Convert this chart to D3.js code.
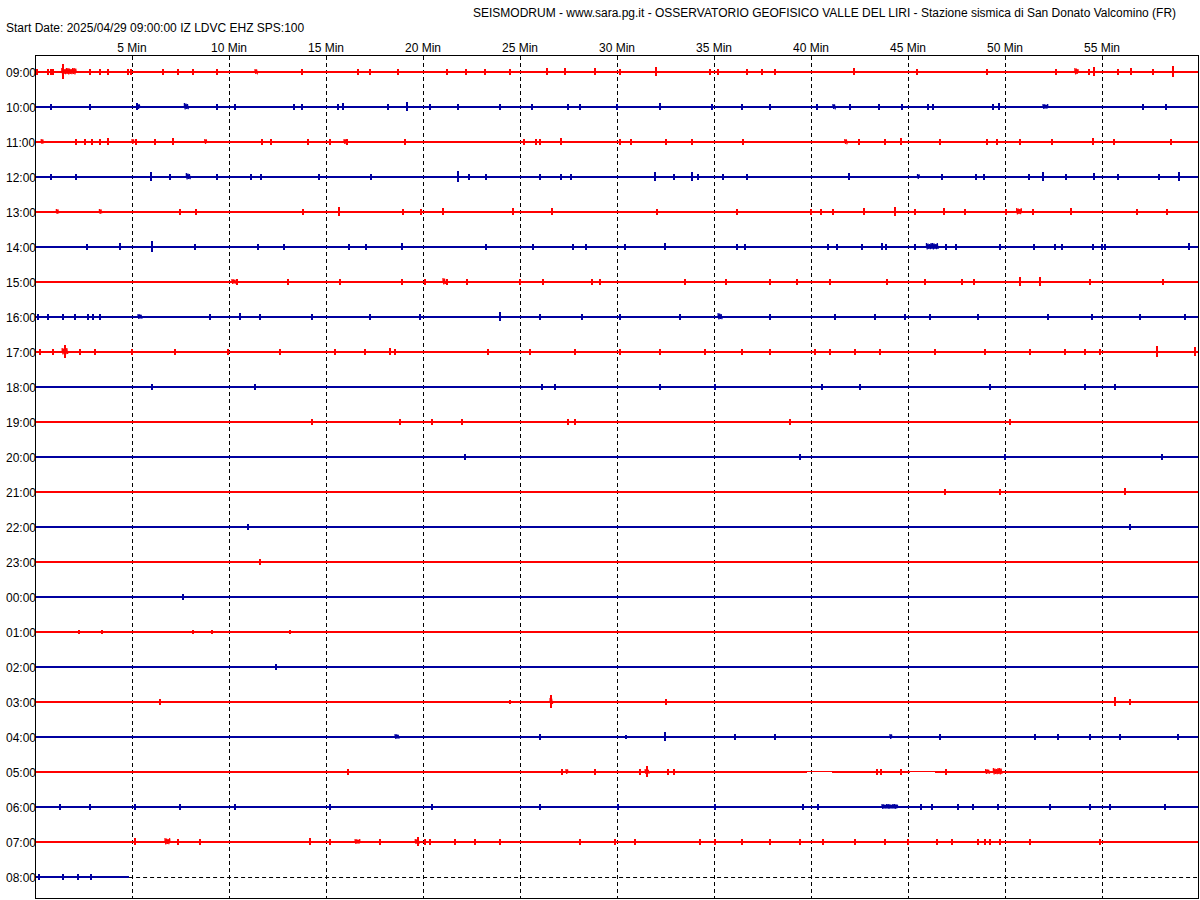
<!DOCTYPE html>
<html><head><meta charset="utf-8">
<script src="https://cdn.jsdelivr.net/npm/d3@7"></script>
<style>
body{margin:0;background:#fff}
text{font-family:Arial,"Liberation Sans",sans-serif;font-size:12px;fill:#000}
</style>
</head><body>
<svg id="chart" width="1200" height="900"></svg>
<script>
// ---------- DATA ----------
const titleText = "SEISMODRUM - www.sara.pg.it - OSSERVATORIO GEOFISICO VALLE DEL LIRI - Stazione sismica di San Donato Valcomino (FR)";
const startText = "Start Date: 2025/04/29 09:00:00 IZ LDVC EHZ SPS:100";
const rowLabels = ["09:00","10:00","11:00","12:00","13:00","14:00","15:00","16:00","17:00","18:00","19:00","20:00","21:00","22:00","23:00","00:00","01:00","02:00","03:00","04:00","05:00","06:00","07:00","08:00"];
const minuteTicks = [5,10,15,20,25,30,35,40,45,50,55];
const traceEnd = [60,60,60,60,60,60,60,60,60,60,60,60,60,60,60,60,60,60,60,60,60,60,60,4.85]; // minutes recorded per row
// events: [minute, amplitude] spike  or [minute, amplitude, duration(min)] burst
const ev0900 = [[0.12,3],[0.68,3],[0.81,3],[0.94,3],[1.38,4,0.75],[1.43,8],[2.84,3],[3.35,3],[3.75,3],[4.81,3],[4.93,3],[6.61,3],[7.39,3],[8.16,3],[9.36,3],[11.34,3,0.15],[13.75,3],[16.66,3],[17.27,3],[18.73,3],[21.24,3],[22.22,3],[23.2,3],[24.48,3],[26.39,4],[27.32,4],[28.87,4],[30.15,3],[32.01,5],[34.79,3],[35.21,3],[36.7,3],[37.47,3],[38.14,3],[42.22,4],[45.46,3],[49.07,3],[52.63,3],[53.6,4,0.18],[54.33,3],[54.59,5],[55.83,3],[56.49,4],[57.63,3],[58.66,6]];
const ev1000 = [[0.82,3],[2.84,3],[5.24,4],[5.3,3,0.1],[7.7,4,0.2],[9.36,3],[10.31,3],[13.37,3],[13.75,3],[15.64,3],[15.89,4],[18.21,3],[19.18,5],[20.36,3],[21.8,3],[23.97,3],[25.62,3],[27.47,3],[28.09,3],[30.0,3],[32.22,4],[34.9,3],[36.44,3],[37.89,3],[40.31,3],[41.13,3,0.15],[42.01,3],[43.51,3],[44.69,3],[46.03,3],[46.29,3],[49.38,3],[49.69,4],[51.96,3,0.25],[57.11,3],[58.3,3]];
const ev1100 = [[0.32,3,0.12],[2.09,3],[2.57,3],[2.96,3],[3.36,3],[3.77,4],[5.0,3,0.1],[5.2,3],[6.19,3],[7.13,4],[8.75,3,0.1],[11.72,3],[12.17,3],[14.09,3],[15.22,3],[15.93,3,0.15],[16.07,3],[19.09,3],[25.22,3],[25.81,3],[26.05,3],[27.13,4],[30.14,3],[30.73,3],[32.51,3],[33.89,3],[36.52,3],[41.74,3,0.15],[42.49,3],[43.83,3],[44.66,4],[46.64,3],[49.05,3],[49.57,3],[50.79,3],[52.41,3],[54.55,4],[55.63,3],[58.56,3]];
const ev1200 = [[0.85,3],[2.13,3],[5.99,5],[6.98,3],[7.8,4,0.2],[9.39,3],[11.13,3],[11.66,3],[14.64,3],[17.31,3],[21.8,6],[22.39,3],[23.24,3],[26.01,3],[27.13,3],[27.63,3],[31.98,5],[32.96,3],[33.89,5],[34.15,3],[35.47,3],[36.72,3],[41.96,4],[45.49,3,0.1],[46.74,3],[48.48,3],[48.91,3],[51.23,3],[51.94,5],[53.12,3],[54.58,4],[55.83,3],[57.94,3],[58.99,5]];
const ev1300 = [[1.1,3,0.12],[3.32,3,0.12],[7.47,3],[8.32,3],[13.79,3],[15.67,5],[18.97,3],[19.88,3],[21.01,4],[24.62,4],[26.64,4],[32.06,3],[36.21,3],[40.02,3],[40.51,3],[41.11,3],[42.73,4],[44.33,5],[45.36,3],[46.88,4],[47.96,3],[50.04,3],[50.6,4,0.25],[51.42,3],[53.42,4],[56.82,3],[58.36,3]];
const ev1400 = [[2.69,3],[4.37,4],[6.05,6],[8.26,3],[11.52,3],[12.81,3],[16.17,3],[17.06,3],[18.93,4],[23.24,3],[25.65,3],[27.73,3],[28.42,3],[30.4,3],[32.45,4],[36.21,3],[36.62,3],[40.87,3],[41.34,3],[42.65,3],[43.64,4],[43.87,3],[45.36,3],[45.95,4,0.6],[46.94,3],[47.47,3],[49.76,3],[51.48,3],[52.57,3],[52.96,3],[54.55,3],[54.98,3],[55.14,3],[59.49,4]];
const ev1500 = [[10.15,3,0.2],[10.41,3],[13.04,3],[15.72,3],[18.92,3],[20.1,3],[21.03,4,0.15],[21.24,3],[22.27,3],[25.0,3],[26.19,3],[28.71,3],[29.12,3],[33.51,3],[35.62,3],[37.89,3],[39.28,3],[40.98,3],[43.92,3],[45.88,3],[47.78,3],[48.4,3],[50.77,5],[51.81,5],[54.38,3],[58.14,3]];
const ev1600 = [[0.15,3],[0.67,3],[1.44,3],[2.06,3],[2.73,3],[2.99,3],[3.35,3],[5.31,3,0.2],[9.02,3],[10.57,4],[11.6,3],[14.28,3],[17.27,3],[19.85,3],[23.97,5],[26.03,3],[28.2,3],[30.15,3],[33.25,3],[35.21,4,0.2],[37.89,3],[41.24,3],[43.3,3],[44.85,3],[46.13,3],[48.61,3],[52.22,3],[54.48,3],[56.96,3],[59.28,3]];
const ev1700 = [[0.26,3],[0.93,3],[1.4,4,0.3],[1.55,7],[2.32,3],[3.09,3],[5.0,3],[7.22,3],[9.95,3],[12.63,3],[15.46,3],[17.01,3],[18.3,4],[18.56,3],[23.35,3],[25.52,3],[27.84,3],[30.15,3],[32.22,3],[34.54,3],[36.44,3],[37.89,3],[40.21,3],[40.98,3],[42.27,3],[43.56,3],[46.39,3],[48.97,3],[51.29,3],[53.09,3],[54.12,3],[54.9,3],[57.84,6],[59.79,5]];
const ev1800 = [[6.03,3],[11.34,3],[26.13,3],[26.8,3],[32.22,3],[35.05,3],[40.57,3],[42.53,3],[49.23,3],[54.12,3],[55.67,3]];
const ev1900 = [[14.28,3],[18.81,3],[20.46,3],[22.01,3],[27.47,3],[27.84,3],[38.92,3],[50.26,3]];
const ev2000 = [[22.16,3],[39.43,3],[50.0,3],[58.09,3]];
const ev2100 = [[46.91,3],[49.74,3],[56.19,4]];
const ev2200 = [[10.98,3],[56.44,3]];
const ev2300 = [[11.6,3]];
const ev0000 = [[7.61,3]];
const ev0100 = [[2.27,2],[3.45,2],[8.14,2],[9.12,2],[13.14,2]];
const ev0200 = [[12.42,3]];
const ev0300 = [[6.44,3],[24.48,2],[26.55,4,0.15],[26.6,7],[32.53,3],[55.67,5],[56.44,3]];
const ev0400 = [[18.56,3,0.2],[26.03,3],[30.46,2],[32.47,5],[36.08,3],[38.14,3],[44.07,3,0.1],[46.65,3],[51.55,3],[52.73,3],[54.38,3],[55.93,3],[58.92,3]];
const ev0500 = [[16.13,3],[27.16,3],[27.37,3,0.1],[28.87,3],[31.19,3],[31.45,3,0.2],[31.55,6],[32.63,3],[32.94,3],[43.4,3],[43.6,3],[44.64,3],[46.96,3],[49.0,3,0.2],[49.4,4,0.45]];
const ev0600 = [[1.29,3],[2.84,3],[5.15,3],[7.47,3],[10.31,3],[15.21,3],[20.46,3],[26.03,3],[30.05,3],[35.05,3],[39.59,3],[40.36,3],[43.66,3,0.8],[45.67,3],[46.23,3],[47.58,3],[48.35,3],[49.64,3],[52.32,3],[54.38,3],[55.41,3],[58.25,3]];
const ev0700 = [[5.15,4],[6.7,4,0.26],[7.37,3],[8.5,3],[14.18,4],[15.21,3],[16.5,3,0.25],[17.78,3],[19.6,3,0.2],[19.74,5],[20.1,3],[20.36,3],[21.65,3],[22.68,3],[23.97,3],[28.09,3],[29.9,3],[30.93,3],[34.28,3],[35.05,3],[36.44,3],[37.89,3],[39.43,3],[40.62,3],[42.27,3],[43.81,3],[45.0,3],[46.49,3],[47.27,3],[48.61,3],[48.97,3],[49.23,3],[49.74,3],[51.29,3],[54.9,3]];
const ev0800 = [[0.2,3],[1.42,3],[2.2,3],[2.9,3]];
const rowEvents = [ev0900,ev1000,ev1100,ev1200,ev1300,ev1400,ev1500,ev1600,ev1700,ev1800,ev1900,ev2000,ev2100,ev2200,ev2300,ev0000,ev0100,ev0200,ev0300,ev0400,ev0500,ev0600,ev0700,ev0800];
// low-amplitude stretches (row, start min, end min)
const thinStretches = [["05:00",39.8,41.1],["05:00",45.1,46.4]];
const traceColors = ["#ff0000","#0000a0"];

// ---------- DRAW ----------
const svg = d3.select("#chart");
const x = d3.scaleLinear().domain([0,60]).range([35,1199]);
const y = d3.scalePoint().domain(rowLabels).range([72,877]);
const a = d3.scaleLinear().domain([-10,10]).range([10,-10]);

svg.append("text").attr("x",473).attr("y",17).text(titleText);
svg.append("text").attr("x",6).attr("y",32).text(startText);

// minute grid
minuteTicks.forEach(m=>{
  const xx = Math.round(x(m))+0.5;
  svg.append("line").attr("x1",xx).attr("x2",xx).attr("y1",56).attr("y2",898)
    .attr("stroke","#000").attr("stroke-width",1).attr("stroke-dasharray","4,3");
  svg.append("text").attr("x",x(m)).attr("y",51.5).attr("text-anchor","middle").text(m+" Min");
});

// row labels
rowLabels.forEach(r=>{
  svg.append("text").attr("x",6).attr("y",y(r)+4.5).text(r);
});

const g = svg.append("g");
rowLabels.forEach((r,i)=>{
  const col = traceColors[i%2];
  const y0 = y(r);
  const line = d3.line().x(d=>Math.round(x(d[0]))).y(d=>y0+a(d[1]));
  const end = traceEnd[i];
  // baseline split into normal and low-amplitude segments
  const thin = thinStretches.filter(t=>t[0]===r).map(t=>[t[1],t[2]]);
  let cur = 0;
  const segs = [];
  thin.forEach(([s,e])=>{ segs.push([cur,s,false]); segs.push([s,e,true]); cur=e; });
  segs.push([cur,end,false]);
  segs.forEach(([s,e,isThin])=>{
    if (e<=s) return;
    g.append("path")
      .attr("d",d3.line().x(d=>Math.round(x(d[0]))).y(()=>isThin? y0-0.5 : y0)([[s,0],[e,0]]))
      .attr("stroke",col).attr("stroke-width",isThin?1:2).attr("fill","none").attr("shape-rendering","crispEdges");
  });
  // events
  rowEvents[i].forEach(ev=>{
    const [m,amp,dur] = ev;
    if (dur) {
      const pattern=[1,0.6,0.85,0.45,0.75,0.55,0.95,0.5];
      const pts=[[m,0]]; let k=0;
      for (let t=m; t<=m+dur; t+=0.04){ pts.push([t,(k%2?-1:1)*amp*pattern[k%pattern.length]]); k++; }
      pts.push([m+dur,0]);
      g.append("path").attr("d",d3.line().x(d=>x(d[0])).y(d=>y0+a(d[1]))(pts))
        .attr("stroke",col).attr("stroke-width",1.2).attr("fill","none");
    } else {
      g.append("path").attr("d",line([[m,0],[m,amp],[m,-amp*0.85],[m,0]]))
        .attr("stroke",col).attr("stroke-width",1.6).attr("fill","none").attr("shape-rendering","crispEdges");
    }
  });
  if (end < 60) {
    g.append("line").attr("x1",x(end)).attr("x2",x(60)).attr("y1",y0+0.5).attr("y2",y0+0.5)
      .attr("stroke","#000").attr("stroke-width",1).attr("stroke-dasharray","4,3");
  }
});

// frame
svg.append("rect").attr("x",35.5).attr("y",55.5).attr("width",1163).attr("height",843)
  .attr("fill","none").attr("stroke","#000").attr("stroke-width",1);
</script>
</body></html>
